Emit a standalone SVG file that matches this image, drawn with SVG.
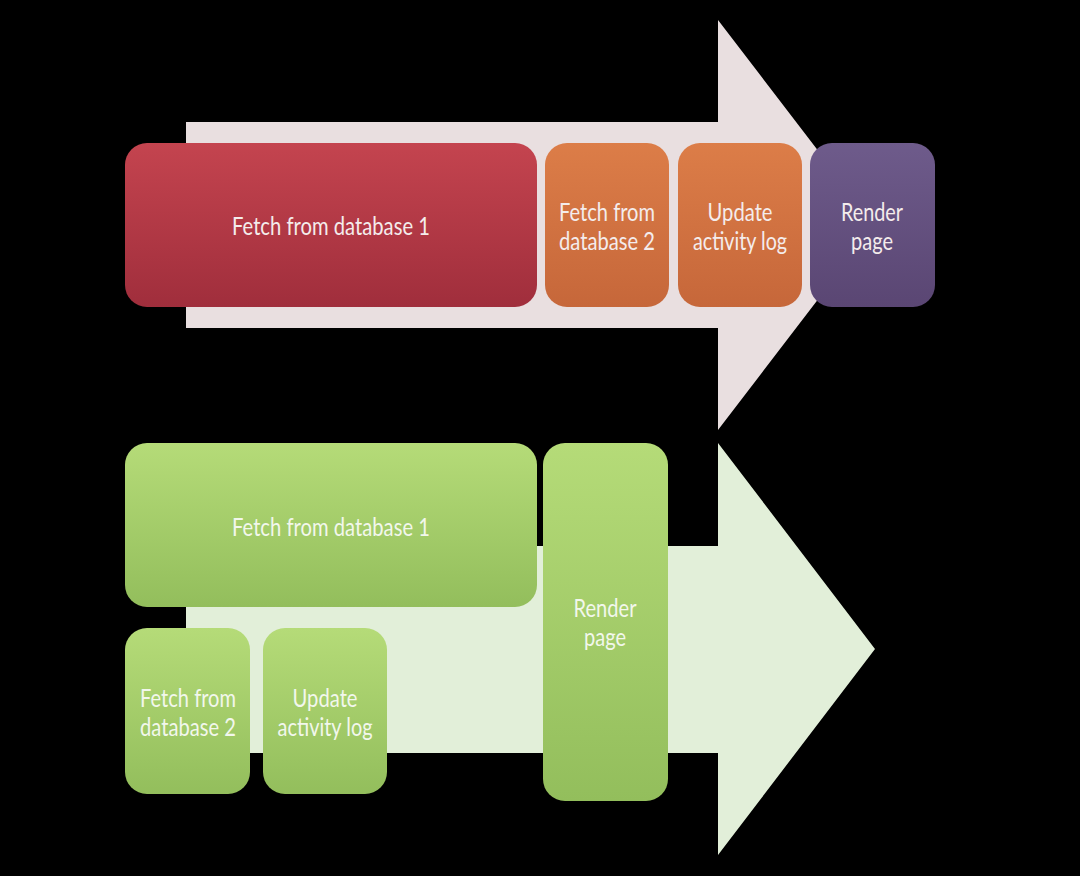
<svg xmlns="http://www.w3.org/2000/svg" width="1080" height="876" viewBox="0 0 1080 876">
<defs>
<linearGradient id="gRed" x1="0" y1="0" x2="0" y2="1"><stop offset="0" stop-color="#C4444F"/><stop offset="1" stop-color="#A02E3C"/></linearGradient>
<linearGradient id="gOrange" x1="0" y1="0" x2="0" y2="1"><stop offset="0" stop-color="#DC7D48"/><stop offset="1" stop-color="#C6673A"/></linearGradient>
<linearGradient id="gPurple" x1="0" y1="0" x2="0" y2="1"><stop offset="0" stop-color="#6E5B8B"/><stop offset="1" stop-color="#5A4673"/></linearGradient>
<linearGradient id="gGreen" x1="0" y1="0" x2="0" y2="1"><stop offset="0" stop-color="#B5DB78"/><stop offset="1" stop-color="#93BE5C"/></linearGradient>
</defs>
<style>
.lbl{font-family:Lato,"Open Sans","Liberation Sans",sans-serif;font-size:25px;fill:#F4ECEC;text-anchor:middle}
.glbl{fill:#F2F7EC}
</style>
<rect width="1080" height="876" fill="#000"/>
<g id="connectors">
<path id="arrow-top" d="M186,122 H718 V20 L875,225 L718,430 V328 H186 Z" fill="#E9DFE0"/>
<path id="arrow-bottom" d="M186,546 H718 V443 L875,649 L718,855 V753 H186 Z" fill="#E2EFD9"/>
</g>
<g id="top-fetch-db1">
<rect x="125" y="143" width="412" height="164" rx="22" fill="url(#gRed)"/>
<text class="lbl" x="331" y="235" textLength="198" lengthAdjust="spacingAndGlyphs">Fetch from database 1</text>
</g>
<g id="top-fetch-db2">
<rect x="545" y="143" width="124" height="164" rx="22" fill="url(#gOrange)"/>
<text class="lbl" x="607" y="221" textLength="96" lengthAdjust="spacingAndGlyphs">Fetch from</text>
<text class="lbl" x="607" y="250" textLength="96" lengthAdjust="spacingAndGlyphs">database 2</text>
</g>
<g id="top-update-log">
<rect x="678" y="143" width="124" height="164" rx="22" fill="url(#gOrange)"/>
<text class="lbl" x="740" y="221" textLength="65" lengthAdjust="spacingAndGlyphs">Update</text>
<text class="lbl" x="740" y="250" textLength="94" lengthAdjust="spacingAndGlyphs">activity log</text>
</g>
<g id="top-render">
<rect x="810" y="143" width="125" height="164" rx="22" fill="url(#gPurple)"/>
<text class="lbl" x="872" y="221" textLength="62" lengthAdjust="spacingAndGlyphs">Render</text>
<text class="lbl" x="872" y="250" textLength="42" lengthAdjust="spacingAndGlyphs">page</text>
</g>
<g id="bottom-fetch-db1">
<rect x="125" y="443" width="412" height="164" rx="22" fill="url(#gGreen)"/>
<text class="lbl glbl" x="331" y="536" textLength="198" lengthAdjust="spacingAndGlyphs">Fetch from database 1</text>
</g>
<g id="bottom-render">
<rect x="543" y="443" width="125" height="358" rx="22" fill="url(#gGreen)"/>
<text class="lbl glbl" x="605" y="617" textLength="63" lengthAdjust="spacingAndGlyphs">Render</text>
<text class="lbl glbl" x="605" y="646" textLength="42" lengthAdjust="spacingAndGlyphs">page</text>
</g>
<g id="bottom-fetch-db2">
<rect x="125" y="628" width="125" height="166" rx="22" fill="url(#gGreen)"/>
<text class="lbl glbl" x="188" y="707" textLength="96" lengthAdjust="spacingAndGlyphs">Fetch from</text>
<text class="lbl glbl" x="188" y="736" textLength="96" lengthAdjust="spacingAndGlyphs">database 2</text>
</g>
<g id="bottom-update-log">
<rect x="263" y="628" width="124" height="166" rx="22" fill="url(#gGreen)"/>
<text class="lbl glbl" x="325" y="707" textLength="65" lengthAdjust="spacingAndGlyphs">Update</text>
<text class="lbl glbl" x="325" y="736" textLength="95" lengthAdjust="spacingAndGlyphs">activity log</text>
</g>
</svg>
